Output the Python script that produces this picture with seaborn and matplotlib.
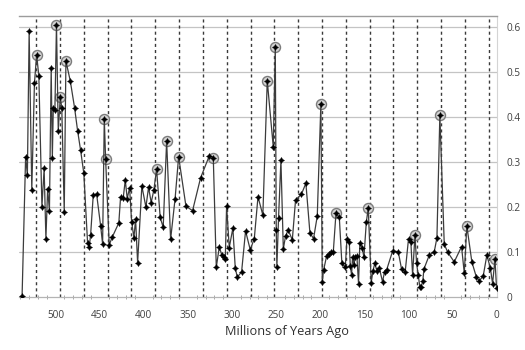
import numpy as np
import pandas as pd
import matplotlib
matplotlib.use("Agg")
import matplotlib.pyplot as plt
import seaborn as sns

# Extinction intensity through the Phanerozoic (fraction of genera lost per interval)
ages = [538, 534, 532, 530, 527, 524, 521.5, 519, 515.5, 513, 511, 509, 507, 505,
        503.7, 502.6, 500.8, 499, 497, 494.7, 493, 490.2, 488.3, 483.3, 478.5, 475,
        471.7, 468, 463.7, 461.8, 460.3, 457.3, 453.5, 449, 446.7, 444.8, 443.3,
        439.2, 435.8, 428.3, 426.3, 423.3, 421, 418.8, 416.1, 413.8, 411.2, 409.3,
        407, 402.2, 397.6, 394.6, 391.6, 388.6, 385.5, 381.4, 378, 374.1, 369.6,
        364.5, 360.5, 352.2, 344.7, 335.6, 325.7, 321.2, 317.8, 314.4, 311.4, 309.5,
        307.6, 306.1, 303.1, 299, 296.3, 294, 289.1, 284.6, 279.3, 274.7, 270.5, 265,
        260, 253.2, 250.9, 249.8, 249.1, 247.2, 244.5, 241.8, 239.2, 236.2, 231.6,
        227.9, 221.4, 216.2, 211.6, 207.5, 203.3, 199.2, 197.6, 196.1, 192.7, 189.7,
        187.4, 185.1, 182.1, 178.3, 175.4, 171.5, 169.7, 167, 165.9, 164.4, 163.3,
        161.8, 160.3, 158.4, 156.5, 155, 152.3, 150.4, 147.7, 145.5, 142.1, 140.2,
        138, 135.7, 133, 129.3, 127, 124.7, 117.9, 111.5, 107.7, 103.6, 99.8, 97.2,
        95.2, 92.5, 90.7, 88.8, 87, 85.4, 83.6, 82.4, 76.3, 70.6, 67.6, 64.3, 59.3,
        55.2, 48, 39.7, 36.6, 33.7, 28, 23, 19.6, 15.1, 11, 7.1, 4.5, 1.8, 0]

intensity = [0.002, 0.312, 0.271, 0.591, 0.239, 0.475, 0.539, 0.491, 0.201, 0.286,
             0.130, 0.241, 0.191, 0.510, 0.310, 0.421, 0.417, 0.606, 0.370, 0.444,
             0.421, 0.190, 0.525, 0.480, 0.421, 0.369, 0.327, 0.275, 0.119, 0.112,
             0.138, 0.227, 0.229, 0.159, 0.118, 0.397, 0.307, 0.116, 0.133, 0.165,
             0.223, 0.221, 0.260, 0.219, 0.243, 0.167, 0.132, 0.173, 0.076, 0.247,
             0.200, 0.244, 0.210, 0.238, 0.284, 0.177, 0.155, 0.347, 0.128, 0.219,
             0.312, 0.202, 0.192, 0.265, 0.314, 0.310, 0.066, 0.111, 0.093, 0.090,
             0.084, 0.203, 0.110, 0.153, 0.065, 0.044, 0.056, 0.147, 0.105, 0.130,
             0.223, 0.182, 0.481, 0.334, 0.556, 0.149, 0.067, 0.176, 0.304, 0.107,
             0.136, 0.149, 0.127, 0.216, 0.228, 0.253, 0.142, 0.130, 0.180, 0.430,
             0.034, 0.060, 0.091, 0.096, 0.099, 0.101, 0.186, 0.177, 0.075, 0.066,
             0.129, 0.123, 0.070, 0.049, 0.088, 0.071, 0.088, 0.091, 0.030, 0.121,
             0.110, 0.088, 0.166, 0.198, 0.032, 0.058, 0.075, 0.058, 0.065, 0.034,
             0.056, 0.060, 0.102, 0.101, 0.062, 0.056, 0.130, 0.123, 0.049, 0.138,
             0.075, 0.049, 0.023, 0.023, 0.036, 0.062, 0.093, 0.101, 0.132, 0.404,
             0.117, 0.099, 0.078, 0.112, 0.053, 0.158, 0.078, 0.045, 0.036, 0.047,
             0.093, 0.065, 0.030, 0.084, 0.019]

# Peaks flagged as significant extinction events
peak_ages = [521.5, 499, 494.7, 488.3, 444.8, 443.3, 385.5, 374.1, 360.5, 321.2,
             260, 250.9, 199.2, 182.1, 145.5, 92.5, 64.3, 33.7, 1.8]

# Periodic reference lines (~27 Myr spacing)
cycle_ages = [9, 36, 63, 90, 117, 144, 171, 198, 225, 252, 279, 306, 333, 360,
              387, 414, 441, 468, 495, 522]

x_ticks = [0, 50, 100, 150, 200, 250, 300, 350, 400, 450, 500]
y_ticks = [0, 0.1, 0.2, 0.3, 0.4, 0.5, 0.6]

df = pd.DataFrame({"age": ages, "intensity": intensity})
peaks = df[df["age"].isin(peak_ages)]

sns.set_theme(style="white")
plt.rcParams["font.family"] = ["Open Sans", "DejaVu Sans"]

fig = plt.figure(figsize=(5.25, 3.5), dpi=100)
ax = fig.add_axes([19 / 525, 1 - 297 / 350, 478 / 525, 281 / 350])

# horizontal grid
for yv in y_ticks[1:]:
    ax.axhline(yv, color="#c4c4c4", lw=0.9, zorder=0)

# dashed periodic markers
for xv in cycle_ages:
    ax.axvline(xv, color="#3a3a3a", lw=1.0, ls=(0, (2.2, 2.2)), zorder=1)

# halos behind the flagged peaks
sns.scatterplot(data=peaks, x="age", y="intensity", ax=ax, s=52,
                color="#d2d2d2", edgecolor="#7c7c7c", linewidth=1.0, zorder=2,
                legend=False)

sns.lineplot(data=df, x="age", y="intensity", ax=ax, sort=False,
             color="#3c3c3c", lw=0.9, marker=(4, 1, 0), markersize=4.2,
             markerfacecolor="black", markeredgecolor="black",
             markeredgewidth=0.5, zorder=3)

ax.set_xlim(541.5, -0.5)
ax.set_ylim(0, 0.625)
ax.set_xticks(x_ticks)
ax.set_xticks(np.arange(0, 541, 10), minor=True)
ax.set_yticks(y_ticks)
ax.set_yticklabels(["0", "0.1", "0.2", "0.3", "0.4", "0.5", "0.6"])
ax.yaxis.tick_right()

ax.tick_params(axis="x", which="major", length=0, pad=9, labelsize=7.2,
               labelcolor="#404040")
ax.tick_params(axis="x", which="minor", bottom=True, length=2.5, width=0.6,
               color="#9a9a9a", direction="inout")
ax.tick_params(axis="y", length=0, pad=7, labelsize=7.2, labelcolor="#404040")

ax.spines["left"].set_visible(False)
ax.spines["top"].set_color("#9c9c9c")
ax.spines["top"].set_linewidth(1.0)
ax.spines["right"].set_color("#d4d4d4")
ax.spines["right"].set_linewidth(0.8)
ax.spines["bottom"].set_color("#b4b4b4")
ax.spines["bottom"].set_linewidth(0.9)

ax.set_ylabel("")
ax.set_xlabel("Millions of Years Ago", fontsize=9.2, color="#303030")
ax.xaxis.label.set_va("center")
ax.xaxis.set_label_coords((287 - 19) / 478, (297 - 332) / 281)

fig.savefig("out.png", dpi=100, facecolor="white")
